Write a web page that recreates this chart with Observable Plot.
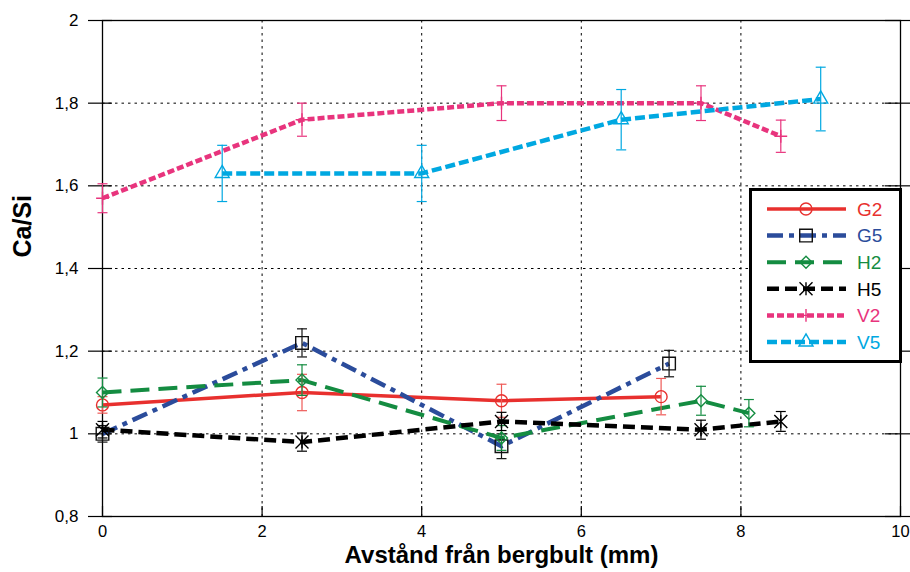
<!DOCTYPE html>
<html><head><meta charset="utf-8">
<script src="https://cdn.jsdelivr.net/npm/d3@7"></script>
<script src="https://cdn.jsdelivr.net/npm/@observablehq/plot@0.6"></script>
<style>
body{margin:0;background:#fff;}
#wrap{position:relative;width:910px;height:572px;font-family:"Liberation Sans",Arial,sans-serif;}
#legend{position:absolute;left:749px;top:188px;}
</style></head><body><div id="wrap"></div>
<script>
// ---- data ----
const xTicks = [0, 2, 4, 6, 8, 10];
const yTicks = [0.8, 1, 1.2, 1.4, 1.6, 1.8, 2];
const xGrid = [2, 4, 6, 8];
const yGrid = [1, 1.2, 1.4, 1.6, 1.8];
const xTitle = "Avstånd från bergbult (mm)";
const yTitle = "Ca/Si";
const seriesNames = ["G2", "G5", "H2", "H5", "V2", "V5"];

const g2X = [0, 2.5, 5, 7];
const g2Y = [1.07, 1.10, 1.08, 1.09];
const g2E = [0.02, 0.044, 0.04, 0.044];

const g5X = [0, 2.5, 5, 7.1];
const g5Y = [1.00, 1.22, 0.97, 1.17];
const g5E = [0.02, 0.034, 0.03, 0.032];

const h2X = [0, 2.5, 5, 7.5, 8.1];
const h2Y = [1.10, 1.13, 0.99, 1.08, 1.05];
const h2E = [0.035, 0.037, 0.03, 0.035, 0.033];

const h5X = [0, 2.5, 5, 7.5, 8.5];
const h5Y = [1.01, 0.98, 1.03, 1.01, 1.03];
const h5E = [0.02, 0.022, 0.022, 0.023, 0.024];

const v2X = [0, 2.5, 5, 7.5, 8.5];
const v2Y = [1.57, 1.76, 1.80, 1.80, 1.72];
const v2E = [0.035, 0.04, 0.042, 0.042, 0.039];

const v5X = [1.5, 4, 6.5, 9];
const v5Y = [1.63, 1.63, 1.76, 1.81];
const v5E = [0.068, 0.068, 0.073, 0.077];

// ---- styles ----
const starSym = {draw(ctx, size) { const r = Math.sqrt(size / Math.PI);
  ctx.moveTo(-r, -r); ctx.lineTo(r, r); ctx.moveTo(-r, r); ctx.lineTo(r, -r);
  ctx.moveTo(0, -r); ctx.lineTo(0, r); }};
const capSym = {draw(ctx, size) { const r = Math.sqrt(size / Math.PI);
  ctx.moveTo(-r, 0); ctx.lineTo(r, 0); }};

const styles = {
  G2: {color: "#e8302e", dash: null, width: 3.5, symbol: "circle", sym: d3.symbolCircle, r: 6, mcolor: "#e8302e", ecolor: "#ee5a57"},
  G5: {color: "#2b4c9b", dash: "16 6 5 6", width: 4.5, symbol: "square", sym: d3.symbolSquare, r: 7.1, mcolor: "#111", ecolor: "#111"},
  H2: {color: "#148c41", dash: "19 9", width: 4, symbol: "diamond2", sym: d3.symbolDiamond2, r: 5.4, mcolor: "#148c41", ecolor: "#148c41"},
  H5: {color: "#000", dash: "12 6", width: 4.5, symbol: starSym, sym: starSym, r: 6.5, mcolor: "#000", ecolor: "#000"},
  V2: {color: "#e8347d", dash: "7 3", width: 4.5, symbol: "plus", sym: d3.symbolPlus, r: 4.2, mcolor: "#e8347d", ecolor: "#e8347d"},
  V5: {color: "#00a8e1", dash: "10 4", width: 4.5, symbol: "triangle", sym: d3.symbolTriangle, r: 5.2, mcolor: "#00a8e1", ecolor: "#00a8e1"}
};

const seriesData = {
  G2: [g2X, g2Y, g2E], G5: [g5X, g5Y, g5E], H2: [h2X, h2Y, h2E],
  H5: [h5X, h5Y, h5E], V2: [v2X, v2Y, v2E], V5: [v5X, v5Y, v5E]
};
const rowsOf = name => { const [xs, ys, es] = seriesData[name];
  return xs.map((x, i) => ({x, y: ys[i], e: es[i]})); };

const fmt = d => String(d).replace(".", ",");

const marks = [
  Plot.gridX(xGrid, {stroke: "#000", strokeOpacity: 1, strokeDasharray: "2.5,4", strokeWidth: 1}),
  Plot.gridY(yGrid, {stroke: "#000", strokeOpacity: 1, strokeDasharray: "2.5,4", strokeWidth: 1}),
  Plot.frame({stroke: "#000", strokeWidth: 1.3}),
  Plot.axisY(yTicks, {tickSize: 0, tickPadding: 24, tickFormat: fmt, fontSize: 17, label: null}),
  Plot.axisY(yTicks, {tickSize: 24, dx: 10, tickFormat: () => "", label: null, strokeWidth: 1.2}),
  Plot.axisY(yTicks, {anchor: "right", tickSize: 26, dx: -16, tickFormat: () => "", label: null, strokeWidth: 1.2}),
  Plot.axisX(xTicks, {tickSize: 0, tickPadding: 9, tickFormat: fmt, fontSize: 16.5, label: null}),
  Plot.axisX(xTicks, {tickSize: 10, dy: -10, tickFormat: () => "", label: null, strokeWidth: 1.2}),
  Plot.text([yTitle], {frameAnchor: "left", text: d => d, dx: -80, dy: -11, rotate: -90, fontSize: 25, fontWeight: "bold", fill: "#000"}),
  Plot.text([xTitle], {frameAnchor: "bottom", text: d => d, dy: 46, fontSize: 24, fontWeight: "bold", fill: "#000"})
];

for (const name of seriesNames) {
  const s = styles[name], rows = rowsOf(name);
  marks.push(Plot.line(rows, {x: "x", y: "y", stroke: s.color, strokeWidth: s.width, strokeDasharray: s.dash, strokeLinecap: "butt", strokeLinejoin: "round"}));
}
for (const name of seriesNames) {
  const s = styles[name], rows = rowsOf(name);
  marks.push(
    Plot.ruleX(rows, {x: "x", y1: d => d.y - d.e, y2: d => d.y + d.e, stroke: s.ecolor, strokeWidth: 1.2}),
    Plot.dot(rows, {x: "x", y: d => d.y + d.e, symbol: capSym, r: 5, stroke: s.ecolor, strokeWidth: 1.2}),
    Plot.dot(rows, {x: "x", y: d => d.y - d.e, symbol: capSym, r: 5, stroke: s.ecolor, strokeWidth: 1.2}),
    Plot.dot(rows, {x: "x", y: "y", symbol: s.symbol, r: s.r, stroke: s.mcolor, fill: "none", strokeWidth: 1.4})
  );
}

const chart = Plot.plot({
  width: 910, height: 572,
  marginLeft: 102, marginRight: 10, marginTop: 20, marginBottom: 56,
  style: {fontFamily: "'Liberation Sans', Arial, sans-serif", fontSize: "17px", color: "#000", background: "#fff"},
  x: {domain: [0, 10], axis: null},
  y: {domain: [0.8, 2], axis: null},
  marks
});
const wrap = document.getElementById("wrap");
wrap.appendChild(chart);

// ---- legend ----
const lg = d3.select(wrap).append("svg").attr("id", "legend").attr("width", 153).attr("height", 175);
lg.append("rect").attr("x", 1.5).attr("y", 1.5).attr("width", 150).attr("height", 172)
  .attr("fill", "#fff").attr("stroke", "#000").attr("stroke-width", 3);
seriesNames.forEach((name, i) => {
  const s = styles[name];
  const cy = 21 + i * 26.6;
  lg.append("line").attr("x1", 18).attr("x2", 97).attr("y1", cy).attr("y2", cy)
    .attr("stroke", s.color).attr("stroke-width", s.width).attr("stroke-dasharray", s.dash);
  lg.append("path").attr("transform", `translate(57,${cy})`)
    .attr("d", d3.symbol(s.sym, s.r * s.r * Math.PI)())
    .attr("fill", "none").attr("stroke", s.mcolor).attr("stroke-width", 1.4);
  lg.append("text").attr("x", 108).attr("y", cy).attr("dy", "0.36em")
    .attr("fill", s.color).attr("font-size", 19)
    .attr("font-family", "'Liberation Sans', Arial, sans-serif").text(name);
});
</script></body></html>
